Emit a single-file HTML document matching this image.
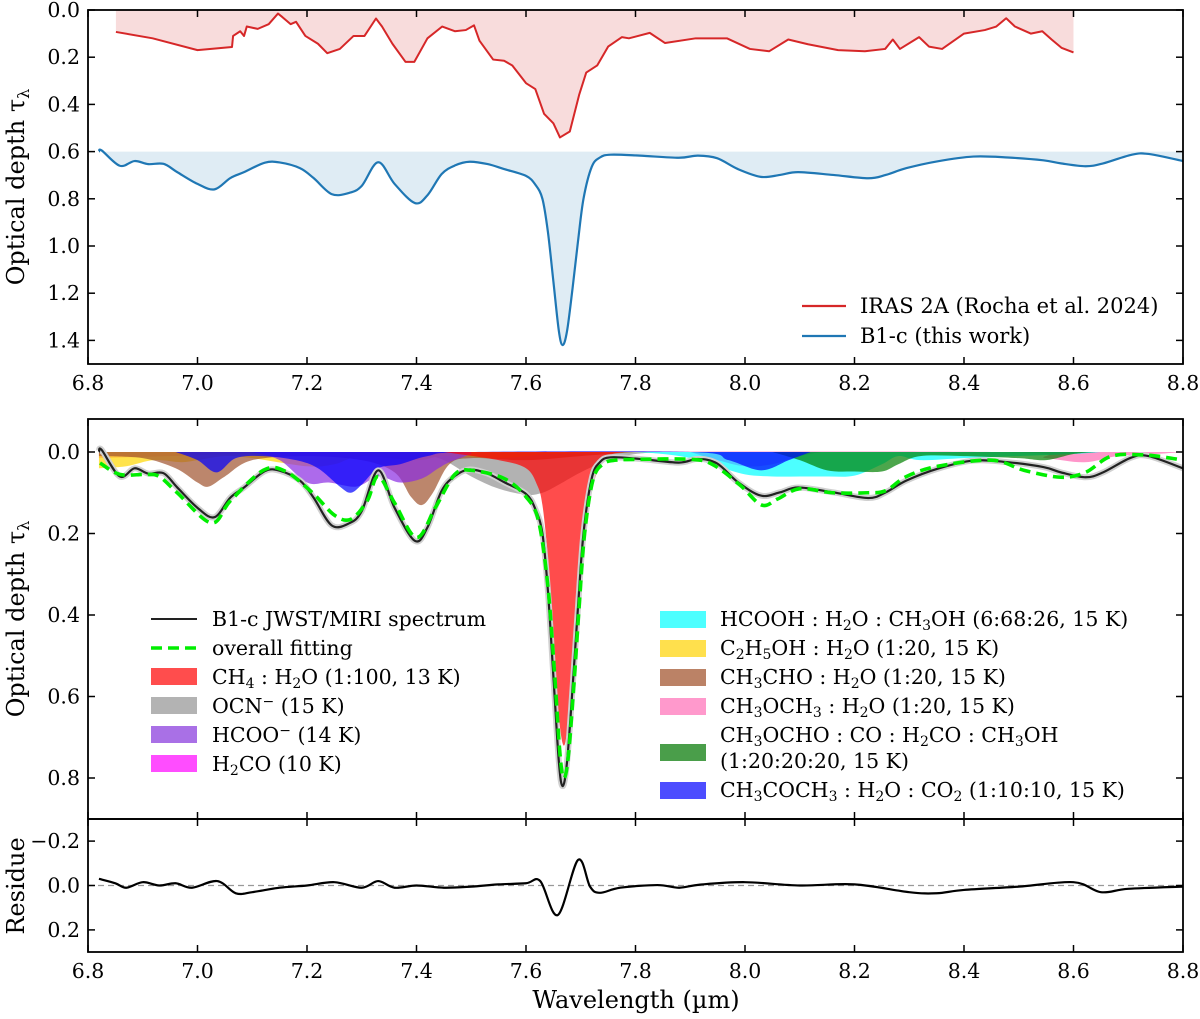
<!DOCTYPE html>
<html><head><meta charset="utf-8"><style>
html,body{margin:0;padding:0;background:#fff;}
svg{display:block;font-family:"DejaVu Serif","Liberation Serif",serif;}
</style></head><body>
<svg id="chart" width="1200" height="1019" viewBox="0 0 1200 1019" xmlns="http://www.w3.org/2000/svg">
<defs>
<clipPath id="clipTop"><rect x="88" y="10" width="1095" height="354"/></clipPath>
<clipPath id="clipMid"><rect x="88" y="419" width="1095" height="400"/></clipPath>
<clipPath id="clipRes"><rect x="88" y="819" width="1095" height="133"/></clipPath>
</defs>
<g id="topMarks" clip-path="url(#clipTop)"></g>
<g id="midMarks" clip-path="url(#clipMid)"></g>
<g id="resMarks" clip-path="url(#clipRes)"></g>
<g id="axes"></g>

<text x="24" y="187" font-size="24" text-anchor="middle" transform="rotate(-90 24 187)">Optical depth τ<tspan font-size="16" dy="5">λ</tspan></text>
<text x="24" y="619" font-size="24" text-anchor="middle" transform="rotate(-90 24 619)">Optical depth τ<tspan font-size="16" dy="5">λ</tspan></text>
<text x="24" y="886" font-size="24" text-anchor="middle" transform="rotate(-90 24 886)">Residue</text>
<text x="636" y="1008" font-size="24" text-anchor="middle">Wavelength (µm)</text>

<g font-size="21">
<line x1="802" y1="306" x2="846" y2="306" stroke="#d62728" stroke-width="2.2"/>
<text x="860" y="313">IRAS 2A (Rocha et al. 2024)</text>
<line x1="802" y1="336" x2="846" y2="336" stroke="#1f77b4" stroke-width="2.2"/>
<text x="860" y="343">B1-c (this work)</text>
</g>

<g font-size="20.5">
<line x1="151" y1="619" x2="197" y2="619" stroke="#222" stroke-width="2"/>
<text x="212" y="626">B1-c JWST/MIRI spectrum</text>
<line x1="151" y1="648" x2="197" y2="648" stroke="#00ee00" stroke-width="3.5" stroke-dasharray="11,6"/>
<text x="212" y="655">overall fitting</text>
<rect x="151" y="668" width="46" height="17" fill="#ff4d4d"/>
<text x="212" y="684">CH<tspan font-size="14" dy="4">4</tspan><tspan dy="-4"> : H</tspan><tspan font-size="14" dy="4">2</tspan><tspan dy="-4">O (1:100, 13 K)</tspan></text>
<rect x="151" y="697" width="46" height="17" fill="#b3b3b3"/>
<text x="212" y="713">OCN<tspan font-size="14" dy="-7">−</tspan><tspan dy="7"> (15 K)</tspan></text>
<rect x="151" y="726" width="46" height="17" fill="#a970e6"/>
<text x="212" y="742">HCOO<tspan font-size="14" dy="-7">−</tspan><tspan dy="7"> (14 K)</tspan></text>
<rect x="151" y="755" width="46" height="17" fill="#ff4dff"/>
<text x="212" y="771">H<tspan font-size="14" dy="4">2</tspan><tspan dy="-4">CO (10 K)</tspan></text>

<rect x="660" y="611" width="46" height="17" fill="#4dffff"/>
<text x="720" y="626">HCOOH : H<tspan font-size="14" dy="4">2</tspan><tspan dy="-4">O : CH</tspan><tspan font-size="14" dy="4">3</tspan><tspan dy="-4">OH (6:68:26, 15 K)</tspan></text>
<rect x="660" y="640" width="46" height="17" fill="#ffe04d"/>
<text x="720" y="655">C<tspan font-size="14" dy="4">2</tspan><tspan dy="-4">H</tspan><tspan font-size="14" dy="4">5</tspan><tspan dy="-4">OH : H</tspan><tspan font-size="14" dy="4">2</tspan><tspan dy="-4">O (1:20, 15 K)</tspan></text>
<rect x="660" y="669" width="46" height="17" fill="#bb8266"/>
<text x="720" y="684">CH<tspan font-size="14" dy="4">3</tspan><tspan dy="-4">CHO : H</tspan><tspan font-size="14" dy="4">2</tspan><tspan dy="-4">O (1:20, 15 K)</tspan></text>
<rect x="660" y="698" width="46" height="17" fill="#ff99cc"/>
<text x="720" y="713">CH<tspan font-size="14" dy="4">3</tspan><tspan dy="-4">OCH</tspan><tspan font-size="14" dy="4">3</tspan><tspan dy="-4"> : H</tspan><tspan font-size="14" dy="4">2</tspan><tspan dy="-4">O (1:20, 15 K)</tspan></text>
<rect x="660" y="744" width="46" height="17" fill="#4a9e4a"/>
<text x="720" y="742">CH<tspan font-size="14" dy="4">3</tspan><tspan dy="-4">OCHO : CO : H</tspan><tspan font-size="14" dy="4">2</tspan><tspan dy="-4">CO : CH</tspan><tspan font-size="14" dy="4">3</tspan><tspan dy="-4">OH</tspan></text>
<text x="720" y="768">(1:20:20:20, 15 K)</text>
<rect x="660" y="782" width="46" height="17" fill="#4d4dff"/>
<text x="720" y="797">CH<tspan font-size="14" dy="4">3</tspan><tspan dy="-4">COCH</tspan><tspan font-size="14" dy="4">3</tspan><tspan dy="-4"> : H</tspan><tspan font-size="14" dy="4">2</tspan><tspan dy="-4">O : CO</tspan><tspan font-size="14" dy="4">2</tspan><tspan dy="-4"> (1:10:10, 15 K)</tspan></text>
</g>
</svg>
<script>
// ---------- data ----------
const specW = [6.82,6.825,6.858,6.885,6.91,6.938,6.963,7.0,7.031,7.06,7.085,7.123,7.15,7.187,7.212,7.245,7.277,7.3,7.33,7.36,7.397,7.42,7.446,7.471,7.497,7.53,7.56,7.6,7.617,7.63,7.64,7.65,7.66,7.667,7.675,7.685,7.695,7.705,7.72,7.735,7.755,7.808,7.879,7.914,7.949,7.987,8.029,8.064,8.097,8.161,8.225,8.257,8.295,8.352,8.417,8.48,8.545,8.577,8.622,8.654,8.705,8.737,8.8];
const specV = [0.0,-0.005,0.06,0.04,0.053,0.052,0.087,0.137,0.16,0.112,0.087,0.047,0.046,0.07,0.112,0.18,0.175,0.145,0.045,0.137,0.218,0.185,0.095,0.058,0.043,0.053,0.074,0.103,0.14,0.2,0.34,0.55,0.76,0.82,0.76,0.58,0.38,0.2,0.065,0.025,0.013,0.017,0.026,0.017,0.028,0.074,0.107,0.099,0.087,0.099,0.113,0.099,0.07,0.041,0.021,0.025,0.037,0.05,0.062,0.05,0.014,0.01,0.04];
const fitW = [6.822,6.858,6.905,6.93,6.963,7.025,7.06,7.12,7.16,7.21,7.25,7.28,7.31,7.33,7.36,7.4,7.435,7.47,7.5,7.56,7.6,7.623,7.64,7.652,7.662,7.669,7.677,7.687,7.697,7.707,7.722,7.74,7.764,7.808,7.9,7.94,7.99,8.03,8.06,8.1,8.16,8.225,8.257,8.295,8.352,8.45,8.51,8.577,8.622,8.67,8.737,8.8];
const fitV = [0.027,0.055,0.055,0.06,0.1,0.174,0.12,0.045,0.047,0.1,0.155,0.165,0.12,0.06,0.125,0.21,0.135,0.055,0.045,0.065,0.11,0.17,0.33,0.54,0.74,0.8,0.75,0.58,0.38,0.2,0.07,0.03,0.02,0.018,0.018,0.03,0.08,0.13,0.115,0.09,0.1,0.1,0.095,0.06,0.035,0.02,0.045,0.062,0.05,0.01,0.008,0.02];
const iras2aW = [6.851,6.918,7.0,7.063,7.065,7.078,7.085,7.09,7.11,7.13,7.147,7.155,7.17,7.18,7.197,7.22,7.237,7.26,7.285,7.305,7.326,7.337,7.356,7.38,7.396,7.42,7.447,7.47,7.49,7.505,7.515,7.54,7.56,7.575,7.6,7.617,7.633,7.65,7.662,7.68,7.697,7.71,7.73,7.75,7.775,7.788,7.826,7.854,7.91,7.967,8.009,8.044,8.079,8.115,8.17,8.219,8.256,8.27,8.283,8.318,8.336,8.36,8.4,8.438,8.459,8.477,8.493,8.522,8.543,8.56,8.578,8.6];
const iras2aV = [0.093,0.12,0.17,0.157,0.11,0.09,0.11,0.07,0.08,0.06,0.015,0.03,0.06,0.05,0.11,0.143,0.183,0.165,0.11,0.11,0.036,0.07,0.143,0.22,0.22,0.12,0.07,0.09,0.085,0.065,0.13,0.21,0.215,0.235,0.31,0.335,0.44,0.48,0.54,0.515,0.36,0.265,0.235,0.155,0.115,0.12,0.097,0.14,0.12,0.12,0.165,0.175,0.125,0.145,0.17,0.175,0.165,0.125,0.165,0.115,0.155,0.165,0.1,0.085,0.07,0.035,0.07,0.1,0.09,0.125,0.16,0.18];
const resW = [6.82,6.85,6.87,6.9,6.93,6.96,6.99,7.036,7.07,7.1,7.15,7.2,7.25,7.3,7.33,7.36,7.4,7.45,7.5,7.55,7.6,7.626,7.658,7.695,7.717,7.735,7.772,7.84,7.88,7.918,8.0,8.1,8.2,8.3,8.35,8.4,8.5,8.6,8.65,8.7,8.8];
const resV = [-0.03,-0.01,0.01,-0.015,0.0,-0.01,0.01,-0.02,0.035,0.03,0.01,0.0,-0.015,0.01,-0.02,0.01,0.0,0.01,0.005,-0.005,-0.01,-0.02,0.133,-0.115,0.005,0.033,0.01,-0.002,0.01,-0.004,-0.015,0.0,-0.005,0.03,0.035,0.02,0.005,-0.015,0.03,0.015,0.005];
const ocnW = [7.4,7.45,7.5,7.55,7.6,7.63,7.66,7.7,7.75,7.8,7.85];
const ocnV = [0,0.02,0.06,0.09,0.105,0.1,0.08,0.05,0.02,0.005,0];
const ch4W = [7.45,7.55,7.6,7.62,7.63,7.64,7.65,7.66,7.67,7.68,7.69,7.7,7.71,7.72,7.73,7.75,7.78];
const ch4V = [0,0.02,0.04,0.08,0.13,0.26,0.46,0.65,0.72,0.62,0.45,0.3,0.18,0.1,0.05,0.01,0];
const c2h5ohW = [6.82,6.87,6.92,6.97,7.0,7.05,7.1,7.2,7.25,7.3,7.4,7.45,7.55,7.65,7.8];
const c2h5ohV = [0.04,0.035,0.02,0.025,0.02,0.01,0.015,0.035,0.03,0.01,0.02,0.01,0.015,0.005,0];
const ch3choW = [6.82,6.9,6.96,7.0,7.02,7.05,7.1,7.2,7.3,7.36,7.39,7.41,7.43,7.46,7.5,7.6,7.7,7.8];
const ch3choV = [0.01,0.015,0.04,0.075,0.085,0.06,0.02,0.01,0.02,0.05,0.11,0.13,0.1,0.03,0.015,0.02,0.01,0];
const hcooW = [7.1,7.15,7.2,7.24,7.29,7.33,7.37,7.41,7.44,7.46,7.5];
const hcooV = [0,0.02,0.075,0.075,0.085,0.06,0.075,0.065,0.04,0.025,0.005];
const ch3coch3W = [6.96,7.0,7.035,7.07,7.12,7.18,7.22,7.26,7.28,7.3,7.33,7.37,7.42,7.5,7.9,7.97,8.03,8.08,8.12];
const ch3coch3V = [0,0.02,0.05,0.015,0.01,0.02,0.04,0.085,0.1,0.08,0.04,0.03,0.01,0,0,0.02,0.045,0.02,0];
const h2coW = [7.9,7.95,8.0,8.05,8.1,8.14];
const h2coV = [0,0.02,0.035,0.03,0.01,0];
const hcoohW = [7.8,7.85,7.9,7.95,8.0,8.05,8.1,8.15,8.2,8.25,8.28,8.32,8.4,8.5,8.6,8.65];
const hcoohV = [0,0.005,0.015,0.035,0.055,0.06,0.06,0.06,0.058,0.03,0.01,0.02,0.015,0.01,0.005,0];
const ch3ochoW = [8.05,8.1,8.15,8.2,8.25,8.28,8.32,8.4,8.5,8.55,8.6,8.64];
const ch3ochoV = [0,0.02,0.045,0.048,0.048,0.03,0.01,0.01,0.015,0.02,0.005,0];
const ch3och3W = [6.82,6.95,7.1,7.5,8.45,8.55,8.62,8.68,8.75,8.8];
const ch3och3V = [0.015,0.01,0.005,0,0,0.015,0.025,0.01,0.005,0];
const xTicks = [6.8,7.0,7.2,7.4,7.6,7.8,8.0,8.2,8.4,8.6,8.8];
const topYTicks = [0.0,0.2,0.4,0.6,0.8,1.0,1.2,1.4];
const midYTicks = [0.0,0.2,0.4,0.6,0.8];
const resYTicks = [-0.2,0.0,0.2];

// ---------- scales ----------
const NS='http://www.w3.org/2000/svg';
const X0=88, X1=1183;
function xs(w){return X0+(w-6.8)*(X1-X0)/2.0;}
const pTop={y0:10,k:236,top:10,bot:364};
const pMid={y0:452,k:407.5,top:419,bot:819};
const pRes={y0:885.5,k:222,top:819,bot:952};
function ys(p,v){return p.y0+v*p.k;}
function mk(tag,attrs,parent){const e=document.createElementNS(NS,tag);for(const a in attrs)e.setAttribute(a,attrs[a]);parent.appendChild(e);return e;}
function smoothPath(pts){
  let d='M'+pts[0][0].toFixed(2)+','+pts[0][1].toFixed(2);
  for(let i=0;i<pts.length-1;i++){
    const p0=pts[Math.max(0,i-1)],p1=pts[i],p2=pts[i+1],p3=pts[Math.min(pts.length-1,i+2)];
    const c1x=p1[0]+(p2[0]-p0[0])/6,c1y=p1[1]+(p2[1]-p0[1])/6;
    const c2x=p2[0]-(p3[0]-p1[0])/6,c2y=p2[1]-(p3[1]-p1[1])/6;
    d+=' C'+c1x.toFixed(2)+','+c1y.toFixed(2)+' '+c2x.toFixed(2)+','+c2y.toFixed(2)+' '+p2[0].toFixed(2)+','+p2[1].toFixed(2);
  }
  return d;
}
function linePath(pts){return pts.map((p,i)=>(i?'L':'M')+p[0].toFixed(2)+','+p[1].toFixed(2)).join(' ');}
function toPts(W,V,p,off){return W.map((w,i)=>[xs(w),ys(p,V[i]+(off||0))]);}

const gTop=document.getElementById('topMarks');
const gMid=document.getElementById('midMarks');
const gRes=document.getElementById('resMarks');
const gAx=document.getElementById('axes');

// ---------- top panel ----------
{
  const rp=toPts(iras2aW,iras2aV,pTop);
  const fillD=linePath(rp)+' L'+xs(iras2aW[iras2aW.length-1])+','+ys(pTop,0)+' L'+xs(iras2aW[0])+','+ys(pTop,0)+' Z';
  const f=mk('path',{d:fillD,fill:'#d62728','fill-opacity':'0.16',stroke:'none'},gTop);
  
  
  const bD=smoothPath(toPts(specW,specV,pTop,0.6));
  const bf=mk('path',{d:bD+' L'+xs(specW[specW.length-1])+','+ys(pTop,0.6)+' L'+xs(specW[0])+','+ys(pTop,0.6)+' Z',fill:'#1f77b4','fill-opacity':'0.14',stroke:'none'},gTop);
  
  
  const rl=mk('path',{d:linePath(rp),fill:'none',stroke:'#d62728','stroke-width':'2','stroke-linejoin':'round'},gTop);
  
  
  const bl=mk('path',{d:bD,fill:'none',stroke:'#1f77b4','stroke-width':'2.2'},gTop);
  
  
}

// ---------- middle panel ----------
const comps=[
  ['ocn-component',ocnW,ocnV,'#929292'],
  ['ch3och3-component',ch3och3W,ch3och3V,'#ff69b4'],
  ['c2h5oh-component',c2h5ohW,c2h5ohV,'#ffd700'],
  ['ch3cho-component',ch3choW,ch3choV,'#a0522d'],
  ['hcoo-component',hcooW,hcooV,'#8a2be2'],
  ['h2co-component',h2coW,h2coV,'#ff00ff'],
  ['hcooh-component',hcoohW,hcoohV,'#00ffff'],
  ['ch3ocho-component',ch3ochoW,ch3ochoV,'#008000'],
  ['ch3coch3-component',ch3coch3W,ch3coch3V,'#0000ff'],
  ['ch4-component',ch4W,ch4V,'#ff0000']
];
comps.forEach(c=>{
  const d=smoothPath(toPts(c[1],c[2],pMid))+' L'+xs(c[1][c[1].length-1])+','+ys(pMid,0)+' L'+xs(c[1][0])+','+ys(pMid,0)+' Z';
  const e=mk('path',{d:d,fill:c[3],'fill-opacity':'0.7',stroke:'none'},gMid);
  
  
});
{
  const sD=smoothPath(toPts(specW,specV,pMid));
  const halo=mk('path',{d:sD,fill:'none',stroke:'#d0d0d0','stroke-width':'6'},gMid);
  
  
  const s=mk('path',{d:sD,fill:'none',stroke:'#222','stroke-width':'2.2'},gMid);
  
  
  const f=mk('path',{d:smoothPath(toPts(fitW,fitV,pMid)),fill:'none',stroke:'#00ee00','stroke-width':'3.6','stroke-dasharray':'11,6'},gMid);
  
  
}
// ---------- residue ----------
{
  const z=mk('line',{x1:X0,x2:X1,y1:ys(pRes,0),y2:ys(pRes,0),stroke:'#999','stroke-width':'1.3','stroke-dasharray':'6,4'},gRes);
  
  
  const r=mk('path',{d:smoothPath(toPts(resW,resV,pRes)),fill:'none',stroke:'#000','stroke-width':'2.2'},gRes);
  
  
}

// ---------- axes ----------
function frame(p,name){
  const r=mk('rect',{x:X0,y:p.top,width:X1-X0,height:p.bot-p.top,fill:'none',stroke:'#000','stroke-width':'1.8'},gAx);
  
  
}
function xTicksFor(p,labels,name){
  xTicks.forEach(t=>{
    const x=xs(t);
    mk('line',{x1:x,x2:x,y1:p.bot,y2:p.bot-7,stroke:'#000','stroke-width':'1.5'},gAx);
    mk('line',{x1:x,x2:x,y1:p.top,y2:p.top+7,stroke:'#000','stroke-width':'1.5'},gAx);
    if(labels){
      const tx=mk('text',{x:x,y:p.bot+26,'font-size':'20.5','text-anchor':'middle'},gAx);
      
      
      tx.textContent=t.toFixed(1);
    }
  });
}
function yTicksFor(p,ticks,name){
  ticks.forEach(t=>{
    const y=ys(p,t);
    mk('line',{x1:X0,x2:X0+7,y1:y,y2:y,stroke:'#000','stroke-width':'1.5'},gAx);
    mk('line',{x1:X1,x2:X1-7,y1:y,y2:y,stroke:'#000','stroke-width':'1.5'},gAx);
    const tx=mk('text',{x:X0-8,y:y+7,'font-size':'20.5','text-anchor':'end'},gAx);
    
    
    tx.textContent=(t<0?'\u2212':'')+Math.abs(t).toFixed(1);
  });
}
frame(pTop,'top-panel-frame');
frame(pMid,'middle-panel-frame');
frame(pRes,'residue-panel-frame');
xTicksFor(pTop,true,'top-x');
xTicksFor(pMid,false,'mid-x');
xTicksFor(pRes,true,'bottom-x');
yTicksFor(pTop,topYTicks,'top-y');
yTicksFor(pMid,midYTicks,'mid-y');
yTicksFor(pRes,resYTicks,'residue-y');
</script>
</body></html>
